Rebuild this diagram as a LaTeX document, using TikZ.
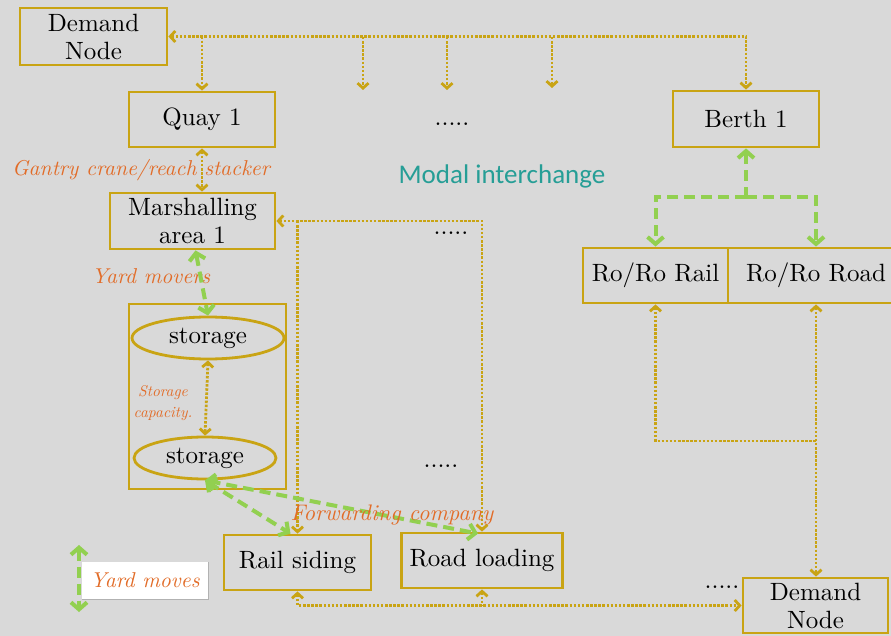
\documentclass[tikz,border=0pt]{standalone}
\usepackage{fontspec}
\setmainfont{lmroman10-regular.otf}[ItalicFont=lmroman10-italic.otf]
\newfontfamily\modalfont{Carlito}
\usetikzlibrary{arrows.meta,shapes.geometric}

\definecolor{bgc}{RGB}{217,217,217}
\definecolor{gold}{RGB}{201,164,20}
\definecolor{lgreen}{RGB}{146,208,80}
\definecolor{orng}{RGB}{226,108,40}
\definecolor{modalteal}{RGB}{38,158,150}

\newcommand\boxfont{\fontsize{25}{28}\selectfont}
\newcommand\itfont{\fontsize{21.5}{24}\selectfont\itshape}
\newcommand\smallit{\fontsize{15.5}{21}\selectfont\itshape}

\tikzset{
  box/.style={draw=gold, line width=2.8pt, inner sep=0pt, align=center, font=\boxfont, text=black},
  store/.style={ellipse, draw=gold, line width=2.8pt, inner sep=0pt, font=\boxfont, text=black},
  lbl/.style={text=orng, font=\itfont, inner sep=0pt},
  dotsnode/.style={font=\boxfont, inner sep=0pt, text=black},
  dotline/.style={draw=gold, line width=2.8pt, dash pattern=on 2.5pt off 1.6pt,
    arrows={Straight Barb[length=5pt,width=11pt]-Straight Barb[length=5pt,width=11pt]}},
  greenline/.style={draw=lgreen, line width=4pt, dash pattern=on 11pt off 6pt,
    arrows={Straight Barb[length=7pt,width=16pt]-Straight Barb[length=7pt,width=16pt]}},
}

\begin{document}
\begin{tikzpicture}[x=1pt,y=-1pt]
\fill[bgc] (0,0) rectangle (891,636);
\useasboundingbox (0,0) rectangle (891,636);

% terminal nodes
\node[box, minimum width=147pt, minimum height=57pt] (dn1) at (93.5,36.5) {Demand\\Node};
\node[box, minimum width=146pt, minimum height=55pt] (quay) at (202,119.5) {Quay 1};
\node[box, minimum width=165pt, minimum height=56pt] (marsh) at (192.5,221) {Marshalling\\area 1};
\node[box, minimum width=146pt, minimum height=56pt] (berth) at (746,119) {Berth 1};
\node[box, minimum width=145pt, minimum height=55pt] (rorail) at (655.5,275.5) {Ro/Ro Rail};
\node[box, minimum width=176pt, minimum height=55pt] (roroad) at (816,275.5) {Ro/Ro Road};

% storage block
\node[box, minimum width=157pt, minimum height=185pt] (storebox) at (207.5,396.5) {};
\node[store, minimum width=152pt, minimum height=42pt] (st1) at (208,338) {storage};
\node[store, minimum width=142pt, minimum height=42pt] (st2) at (205,458) {storage};

\node[box, minimum width=147pt, minimum height=55pt] (rails) at (297.5,562.5) {Rail siding};
\node[box, minimum width=161pt, minimum height=55pt] (roadl) at (482,560.5) {Road loading};
\node[box, minimum width=145pt, minimum height=55pt] (dn2) at (815.5,605.5) {Demand\\Node};

% labels
\node[lbl] (gantry) at (141,170) {Gantry crane/reach stacker};
\node[text=modalteal, font=\modalfont\fontsize{27}{30}\selectfont, inner sep=0pt] (modal) at (502,176) {Modal interchange};
\node[lbl] (movers) at (151,276) {Yard movers};
\node[text=orng, font=\smallit, align=center, inner sep=0pt] (cap) at (163,403) {Storage\\capacity.};
\node[dotsnode] (dotsa) at (452,124) {.....};
\node[dotsnode] (dotsb) at (451,233) {.....};
\node[dotsnode] (dotsc) at (441,466) {.....};
\node[dotsnode] (dotsd) at (722,587) {.....};

% demand bus along the top
\coordinate (dropa) at (363,37);
\coordinate (dropaend) at (363,90);
\coordinate (dropb) at (447,37);
\coordinate (dropbend) at (447,90);
\coordinate (dropc) at (552,37);
\coordinate (dropcend) at (552,88);
\draw[dotline] (dn1.east) -| (berth.north);
\draw[dotline, arrows={-Straight Barb[length=5pt,width=11pt]}] (quay.north |- dn1.east) -- (quay.north);
\draw[dotline, arrows={-Straight Barb[length=5pt,width=11pt]}] (dropa) -- (dropaend);
\draw[dotline, arrows={-Straight Barb[length=5pt,width=11pt]}] (dropb) -- (dropbend);
\draw[dotline, arrows={-Straight Barb[length=5pt,width=11pt]}] (dropc) -- (dropcend);

% quay to marshalling
\draw[dotline] (quay.south) -- (quay.south |- marsh.north);

% marshalling to rail siding and road loading
\draw[dotline] (marsh.east) -| (roadl.north);
\draw[dotline, arrows={-Straight Barb[length=5pt,width=11pt]}] (rails.north |- marsh.east) -- (rails.north);

% storage levels
\draw[dotline] (st1.south) -- (st2.north);

% bottom bus to the demand node
\draw[dotline] (rails.south) |- (dn2.west);
\draw[dotline, arrows={Straight Barb[length=5pt,width=11pt]-}] (roadl.south) -- (roadl.south |- dn2.west);

% ro/ro to demand node
\coordinate (rojoin) at (816,441);
\draw[dotline, arrows={Straight Barb[length=5pt,width=11pt]-}] (rorail.south) |- (rojoin);
\draw[dotline] (roroad.south) -- (dn2.north -| roroad.south);

% yard moves (green)
\coordinate (bsplit) at (746,197);
\draw[greenline, arrows={Straight Barb[length=7pt,width=16pt]-}] (berth.south) -- (bsplit);
\draw[greenline, arrows={-Straight Barb[length=7pt,width=16pt]}] (bsplit) -| (rorail.north);
\draw[greenline, arrows={-Straight Barb[length=7pt,width=16pt]}] (bsplit) -| (roroad.north);
\draw[greenline] ([xshift=3pt]marsh.south) -- (st1.north);
\draw[greenline] (st2.south) -- ([xshift=-7pt]rails.north);
\draw[greenline] (st2.south) -- ([xshift=-4pt,yshift=-2pt]roadl.north);

\node[lbl, font=\fontsize{22.5}{24}\selectfont\itshape] (fwd) at (392,515) {Forwarding company};

% legend
\node[fill=white, minimum width=126pt, minimum height=37pt, inner sep=0pt, text=orng, font=\itfont] (legend) at (145,580.5) {Yard moves};
\draw[black!30, line width=1pt] (legend.south west) -- (legend.south east) -- (legend.north east);
\coordinate (legtop) at (79,545);
\coordinate (legbot) at (79,612);
\draw[greenline] (legtop) -- (legbot);
\end{tikzpicture}
\end{document}
